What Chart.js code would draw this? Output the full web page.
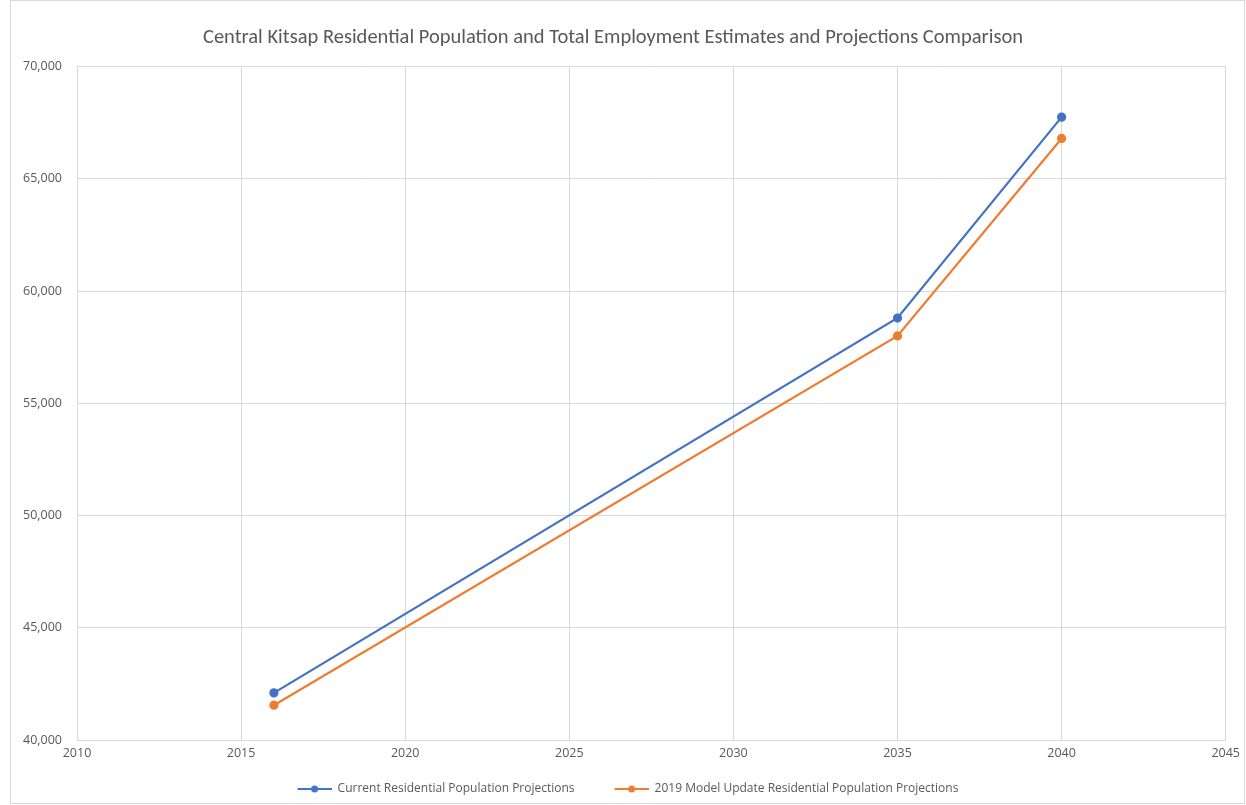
<!DOCTYPE html>
<html>
<head>
<meta charset="utf-8">
<script src="https://cdn.jsdelivr.net/npm/chart.js@4/dist/chart.umd.min.js"></script>
<style>
  html, body { margin: 0; padding: 0; background: #fff; }
  #wrap { width: 1246px; height: 805px; position: relative; }
</style>
</head>
<body>
<div id="wrap"><canvas id="myChart"></canvas></div>
<script>
// years and values
const years = [2016, 2035, 2040];
const currentPop = [42100, 58800, 67750];
const modelPop = [41550, 58000, 66800];
const seriesNames = ["Current Residential Population Projections", "2019 Model Update Residential Population Projections"];
const seriesColors = ["#4472C4", "#ED7D31"];

function toPoints(xs, ys) {
  let pts = [];
  for (let i = 0; i < xs.length; i++) {
    pts.push({ x: xs[i], y: ys[i] });
  }
  return pts;
}

// line+dot icon for the legend, with blank space on the left as item gap
function legendIcon(color) {
  let c = document.createElement("canvas");
  c.width = 64; c.height = 10;
  let ctx = c.getContext("2d");
  ctx.strokeStyle = color;
  ctx.lineWidth = 2;
  ctx.beginPath(); ctx.moveTo(30, 5); ctx.lineTo(64, 5); ctx.stroke();
  ctx.fillStyle = color;
  ctx.beginPath(); ctx.arc(47, 5, 3.5, 0, Math.PI * 2); ctx.fill();
  return c;
}

const frame = {
  id: "frame",
  beforeDraw(chart) {
    let ctx = chart.ctx;
    ctx.save();
    ctx.fillStyle = "#fff";
    ctx.fillRect(0, 0, chart.width, chart.height);
    ctx.strokeStyle = "#d9d9d9";
    ctx.lineWidth = 1;
    ctx.strokeRect(10.5, 0.5, chart.width - 12, chart.height - 2);
    ctx.restore();
  }
};

var myChart = new Chart(document.getElementById("myChart"), {
  type: "scatter",
  data: {
    datasets: [{
      label: seriesNames[0],
      data: toPoints(years, currentPop),
      showLine: true,
      borderColor: seriesColors[0],
      backgroundColor: seriesColors[0],
      borderWidth: 2.25,
      pointRadius: 3.5
    }, {
      label: seriesNames[1],
      data: toPoints(years, modelPop),
      showLine: true,
      borderColor: seriesColors[1],
      backgroundColor: seriesColors[1],
      borderWidth: 2.25,
      pointRadius: 3.5
    }]
  },
  plugins: [frame],
  options: {
    responsive: true,
    maintainAspectRatio: false,
    animation: false,
    layout: { padding: { left: 0, right: 20, top: 26, bottom: 0 } },
    plugins: {
      title: {
        display: true,
        text: "Central Kitsap Residential Population and Total Employment Estimates and Projections Comparison",
        color: "#595959",
        font: { family: "Calibri, Carlito, 'Open Sans', sans-serif", size: 20.5, weight: "normal" },
        padding: { top: 0, bottom: 16 }
      },
      legend: {
        position: "bottom",
        labels: {
          color: "#595959",
          font: { family: "'Open Sans', sans-serif", size: 12 },
          usePointStyle: true,
          pointStyleWidth: 64,
          padding: 10,
          generateLabels(chart) {
            return chart.data.datasets.map((ds, i) => ({
              text: ds.label,
              pointStyle: legendIcon(seriesColors[i]),
              fontColor: "#595959",
              datasetIndex: i,
              lineWidth: 0
            }));
          }
        }
      },
      tooltip: { enabled: false }
    },
    scales: {
      x: {
        type: "linear",
        min: 2010,
        max: 2045,
        afterFit(scale) { scale.height = scale.height + 6; },
        ticks: {
          stepSize: 5,
          color: "#595959",
          padding: 6,
          font: { family: "'Open Sans', sans-serif", size: 12.5 },
          callback: v => String(v)
        },
        grid: { color: "#d9d9d9", drawTicks: false },
        border: { color: "#d9d9d9" }
      },
      y: {
        min: 40000,
        max: 70000,
        afterFit(scale) { scale.width = 77; },
        ticks: {
          stepSize: 5000,
          color: "#595959",
          padding: 15,
          font: { family: "'Open Sans', sans-serif", size: 12.5 },
          callback: v => v.toLocaleString("en-US")
        },
        grid: { color: "#d9d9d9", drawTicks: false },
        border: { color: "#d9d9d9" }
      }
    }
  }
});
</script>
</body>
</html>
